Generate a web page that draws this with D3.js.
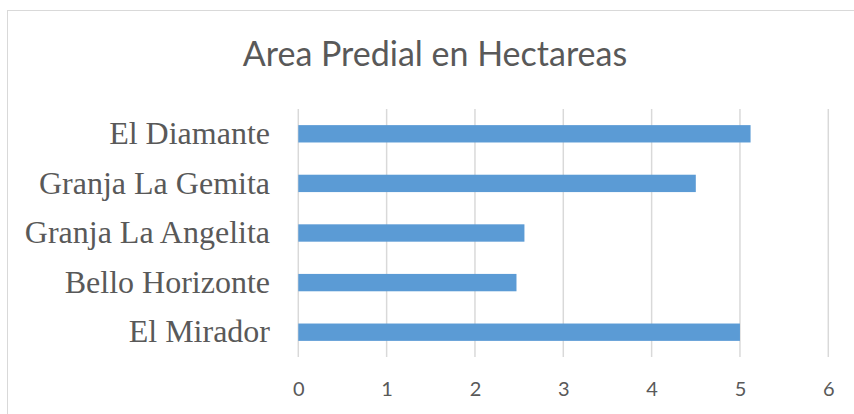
<!DOCTYPE html>
<html>
<head>
<meta charset="utf-8">
<script src="https://cdn.jsdelivr.net/npm/d3@7"></script>
<style>
    html, body { margin: 0; padding: 0; background: #fff; }
    svg { display: block; }
</style>
</head>
<body>
<svg></svg>
<script>
const chartTitle = 'Area Predial en Hectareas';
const fincas = ['El Diamante', 'Granja La Gemita', 'Granja La Angelita', 'Bello Horizonte', 'El Mirador'];
const hectareas = [5.12, 4.5, 2.56, 2.47, 5.0];
const xTicks = [0, 1, 2, 3, 4, 5, 6];

const W = 854, H = 414;
const plot = { left: 298.3, right: 828.3, top: 109, bottom: 357 };

const svg = d3.select('svg').attr('width', W).attr('height', H);

// chart frame (runs off the right / bottom edge like the screenshot)
svg.append('rect')
    .attr('x', 7.5).attr('y', 10.5)
    .attr('width', 900).attr('height', 450)
    .attr('fill', '#fff')
    .attr('stroke', '#d9d9d9')
    .attr('stroke-width', 1);

const x = d3.scaleLinear().domain([0, 6]).range([plot.left, plot.right]);
const y = d3.scaleBand().domain(fincas).range([plot.top, plot.bottom]).paddingInner(0.65).paddingOuter(0.325);

// gridlines
svg.append('g')
    .selectAll('line')
    .data(xTicks)
    .join('line')
    .attr('x1', d => x(d)).attr('x2', d => x(d))
    .attr('y1', plot.top).attr('y2', plot.bottom)
    .attr('stroke', '#d9d9d9')
    .attr('stroke-width', 1.5);

// bars
svg.append('g')
    .selectAll('rect')
    .data(fincas)
    .join('rect')
    .attr('x', x(0))
    .attr('y', d => y(d))
    .attr('width', (d, i) => x(hectareas[i]) - x(0))
    .attr('height', y.bandwidth())
    .attr('fill', '#5b9bd5');

// x axis labels
const xAxis = d3.axisBottom(x).tickValues(xTicks).tickFormat(d3.format('d')).tickSize(0).tickPadding(0);
const gx = svg.append('g')
    .attr('transform', 'translate(0,' + (plot.bottom + 25) + ')')
    .call(xAxis);
gx.select('.domain').remove();
gx.selectAll('text')
    .attr('dy', '0.71em')
    .attr('fill', '#595959')
    .style('font-family', 'Lato, "Open Sans", sans-serif')
    .style('font-size', '20px');

// category labels
const yAxis = d3.axisLeft(y).tickSize(0).tickPadding(0);
const gy = svg.append('g')
    .attr('transform', 'translate(270,0)')
    .call(yAxis);
gy.select('.domain').remove();
gy.selectAll('text')
    .attr('dy', '0.32em')
    .attr('fill', '#595959')
    .style('font-family', '"Liberation Serif", "Times New Roman", serif')
    .style('font-size', '32px');

// title
svg.append('text')
    .attr('x', 435)
    .attr('y', 66)
    .attr('text-anchor', 'middle')
    .attr('fill', '#595959')
    .style('font-family', 'Lato, "Open Sans", sans-serif')
    .style('font-size', '34px')
    .text(chartTitle);
</script>
</body>
</html>
